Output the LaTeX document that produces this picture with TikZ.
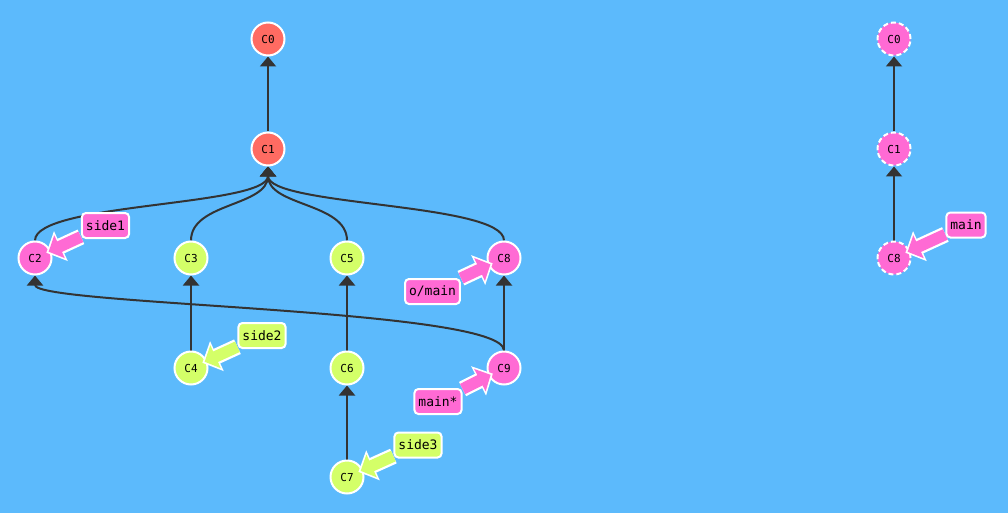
\documentclass[tikz,border=0pt]{standalone}
\usepackage{fontspec}
\setmonofont{DejaVu Sans Mono}
\usetikzlibrary{arrows.meta,backgrounds}
\pgfdeclarelayer{front}
\pgfsetlayers{background,main,front}
\definecolor{bgc}{HTML}{5CBAFC}
\definecolor{redc}{HTML}{FF6B62}
\definecolor{pinkc}{HTML}{FF6AD4}
\definecolor{greenc}{HTML}{D4FF68}
\definecolor{edgec}{HTML}{333333}
\tikzset{
  commit/.style={circle, draw=white, line width=2pt, minimum size=33pt, inner sep=0pt, font=\ttfamily\fontsize{11}{11}\selectfont, text=black},
  redcommit/.style={commit, fill=redc},
  pinkcommit/.style={commit, fill=pinkc},
  greencommit/.style={commit, fill=greenc},
  ghost/.style={commit, fill=pinkc, dash pattern=on 5pt off 3pt},
  branchlbl/.style={draw=white, line width=2pt, rounded corners=4pt, inner xsep=4pt, minimum height=25pt, font=\ttfamily\fontsize{13}{13}\selectfont, text=black},
  pinklbl/.style={branchlbl, fill=pinkc},
  greenlbl/.style={branchlbl, fill=greenc},
  parentedge/.style={draw=edgec, line width=2pt, -{Triangle[length=10pt,width=16pt]}},
  fatwhite/.style={draw=white, line width=16pt, -{Triangle[length=16pt,width=32pt]}, shorten >=-5pt},
  fatpink/.style={draw=pinkc, line width=11.5pt, -{Triangle[length=12pt,width=24.5pt]}, shorten >=-2.5pt},
  fatgreen/.style={draw=greenc, line width=11.5pt, -{Triangle[length=12pt,width=24.5pt]}, shorten >=-2.5pt}
}
\begin{document}
\begin{tikzpicture}[x=1pt,y=-1pt]
\begin{scope}[on background layer]
\fill[bgc] (0,0) rectangle (1008,513);
\end{scope}
\useasboundingbox (0,0) rectangle (1008,513);

% left graph
\node[redcommit] (C0) at (268,39) {C0};
\node[redcommit] (C1) at (268,149) {C1};
\node[pinkcommit] (C2) at (35,258) {C2};
\node[greencommit] (C3) at (191,258) {C3};
\node[greencommit] (C5) at (347,258) {C5};
\node[pinkcommit] (C8) at (504,258) {C8};
\node[greencommit] (C4) at (191,368) {C4};
\node[greencommit] (C6) at (347,368) {C6};
\node[pinkcommit] (C9) at (504,368) {C9};
\node[greencommit] (C7) at (347,477) {C7};

% right graph
\node[ghost] (R0) at (894,39) {C0};
\node[ghost] (R1) at (894,149) {C1};
\node[ghost] (R8) at (894,258) {C8};

% branch labels
\begin{pgfonlayer}{front}
\node[pinklbl] (side1) at (105.5,225.5) {side1};
\node[greenlbl] (side2) at (262,335.5) {side2};
\node[greenlbl] (side3) at (418,445) {side3};
\node[pinklbl] (omain) at (432.5,291.5) {o/main};
\node[pinklbl] (mainstar) at (438,401.5) {main*};
\node[pinklbl] (rmain) at (966,225) {main};
\end{pgfonlayer}

\begin{scope}[on background layer]
% parent edges
\draw[parentedge] (C1) -- (C0);
\draw[parentedge] (C2.north) .. controls +(0,-38) and +(0,40) .. (C1.south);
\draw[parentedge] (C3.north) .. controls +(0,-38) and +(0,40) .. (C1.south);
\draw[parentedge] (C5.north) .. controls +(0,-38) and +(0,40) .. (C1.south);
\draw[parentedge] (C8.north) .. controls +(0,-38) and +(0,40) .. (C1.south);
\draw[parentedge] (C4) -- (C3);
\draw[parentedge] (C6) -- (C5);
\draw[parentedge] (C7) -- (C6);
\draw[parentedge] (C9) -- (C8);
\draw[parentedge] (C9.north) .. controls +(0,-42) and +(0,30) .. (C2.south);
\draw[parentedge] (R1) -- (R0);
\draw[parentedge] (R8) -- (R1);
\end{scope}

% branch arrows (over the commit circles, under the labels)
\draw[fatwhite] (side1) -- (C2);
\draw[fatpink] (side1) -- (C2);
\draw[fatwhite] (side2) -- (C4);
\draw[fatgreen] (side2) -- (C4);
\draw[fatwhite] (side3) -- (C7);
\draw[fatgreen] (side3) -- (C7);
\draw[fatwhite] (omain) -- (C8);
\draw[fatpink] (omain) -- (C8);
\draw[fatwhite] (mainstar) -- (C9);
\draw[fatpink] (mainstar) -- (C9);
\draw[fatwhite] (rmain) -- (R8);
\draw[fatpink] (rmain) -- (R8);
\end{tikzpicture}
\end{document}
